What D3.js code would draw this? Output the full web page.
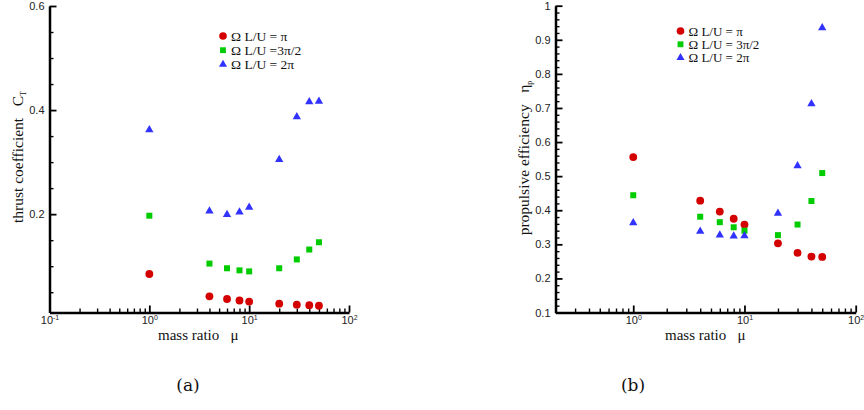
<!DOCTYPE html>
<html><head><meta charset="utf-8">
<script src="https://cdn.jsdelivr.net/npm/d3@7"></script>
<style>body{margin:0;background:#fff}svg{display:block}</style>
</head><body>
<svg id="c" width="864" height="410"></svg>
<script>
const massRatio = [1, 4, 6, 8, 10, 20, 30, 40, 50];
const seriesNames = ["\u03A9 L/U = \u03C0", "\u03A9 L/U =3\u03C0/2", "\u03A9 L/U = 2\u03C0"];
const seriesNamesB = ["\u03A9 L/U = \u03C0", "\u03A9 L/U = 3\u03C0/2", "\u03A9 L/U = 2\u03C0"];
const thrustPi    = [0.085, 0.042, 0.037, 0.034, 0.032, 0.028, 0.026, 0.025, 0.024];
const thrust3Pi2  = [0.197, 0.105, 0.096, 0.092, 0.090, 0.096, 0.113, 0.132, 0.146];
const thrust2Pi   = [0.362, 0.206, 0.199, 0.204, 0.213, 0.305, 0.387, 0.416, 0.417];
const effPi       = [0.556, 0.428, 0.396, 0.375, 0.358, 0.303, 0.275, 0.264, 0.263];
const eff3Pi2     = [0.444, 0.381, 0.365, 0.350, 0.340, 0.327, 0.358, 0.427, 0.509];
const eff2Pi      = [0.363, 0.338, 0.327, 0.324, 0.325, 0.391, 0.530, 0.712, 0.935];
const ticksThrust = [0.2, 0.4, 0.6];
const ticksEff    = [0.1, 0.2, 0.3, 0.4, 0.5, 0.6, 0.7, 0.8, 0.9, 1];
const colors = ["#d40000", "#00cc00", "#3232ff"];
const shapes = [d3.symbolCircle, d3.symbolSquare, d3.symbolTriangle];
const symSizes = [48, 36, 30];

const SERIF = "'Liberation Serif', 'Times New Roman', serif";
const SANS = "'Liberation Sans', Arial, sans-serif";
const svg = d3.select("#c");

function panel(cfg) {
  const g = svg.append("g");
  const x = d3.scaleLog().domain(cfg.xDomain).range(cfg.xRange);
  const y = d3.scaleLinear().domain(cfg.yDomain).range(cfg.yRange);
  const y0 = cfg.yRange[0], x0 = cfg.xRange[0];

  const decStart = Math.floor(Math.log10(cfg.xDomain[0]));
  const minorX = [], majorX = [];
  for (let e = decStart; e <= 2; e++) {
    for (let k = 1; k <= 9; k++) {
      const v = k * Math.pow(10, e);
      if (v < cfg.xDomain[0] - 1e-9 || v > cfg.xDomain[1] + 1e-9) continue;
      (k === 1 ? majorX : minorX).push(v);
    }
  }

  // minor ticks (x)
  const mx = g.append("g").attr("transform", `translate(0,${y0})`)
    .call(d3.axisBottom(x).tickValues(minorX).tickSizeInner(-4).tickSizeOuter(0).tickFormat(""));
  mx.select(".domain").remove();
  mx.selectAll(".tick line").style("stroke", "#000").style("stroke-width", "1.4px");

  // minor ticks (y)
  const my = g.append("g").attr("transform", `translate(${x0},0)`)
    .call(d3.axisLeft(y).tickValues(cfg.yMinor).tickSizeInner(-4).tickSizeOuter(0).tickFormat(""));
  my.select(".domain").remove();
  my.selectAll(".tick line").style("stroke", "#000").style("stroke-width", "1.4px");

  // major x axis with domain line
  const xa = g.append("g").attr("transform", `translate(0,${y0})`)
    .call(d3.axisBottom(x).tickValues(majorX).tickSizeInner(-7).tickSizeOuter(0).tickFormat(""));
  xa.select(".domain").style("stroke", "#000").style("stroke-width", "2.5px");
  xa.selectAll(".tick line").style("stroke", "#000").style("stroke-width", "1.8px");
  xa.selectAll(".tick").each(function(d) {
    const e = Math.round(Math.log10(d));
    const t = d3.select(this).append("text").attr("y", 11.5)
      .attr("fill", "#222").attr("font-family", SANS)
      .attr("font-size", 11).attr("text-anchor", "middle");
    t.append("tspan").text("10");
    t.append("tspan").attr("dy", -4).attr("font-size", 7).text(String(e));
  });

  // major y axis with domain line
  const ya = g.append("g").attr("transform", `translate(${x0},0)`)
    .call(d3.axisLeft(y).tickValues(cfg.yTicks).tickSizeInner(-7).tickSizeOuter(0).tickFormat(d3.format("~g")));
  ya.select(".domain").style("stroke", "#000").style("stroke-width", "2.5px");
  ya.selectAll(".tick line").style("stroke", "#000").style("stroke-width", "1.8px");
  ya.selectAll("text").attr("x", -5).attr("fill", "#222").attr("font-family", SANS).attr("font-size", 11);

  cfg.series.forEach((vals, i) => {
    g.append("g").selectAll("path").data(vals).join("path")
      .attr("d", d3.symbol().type(shapes[i]).size(symSizes[i]))
      .attr("transform", (v, j) => `translate(${x(massRatio[j])},${y(v)})`)
      .attr("fill", colors[i]);
  });

  cfg.names.forEach((nm, i) => {
    const ly = cfg.legend[1] + i * cfg.legend[2];
    g.append("path").attr("d", d3.symbol().type(shapes[i]).size(symSizes[i] * 0.95)())
      .attr("transform", `translate(${cfg.legend[0]},${ly})`).attr("fill", colors[i]);
    g.append("text").attr("x", cfg.legend[0] + 8).attr("y", ly + 4.5)
      .attr("font-family", SERIF).attr("font-size", cfg.legend[3])
      .attr("fill", "#111").text(nm);
  });

  g.append("text").attr("x", cfg.xTitle[0]).attr("y", cfg.xTitle[1])
    .attr("font-family", SERIF).attr("font-size", 15)
    .attr("fill", "#111").attr("xml:space", "preserve").text("mass ratio   \u03BC");
  const yt = g.append("text").attr("transform", `translate(${cfg.yTitle[0]},${cfg.yTitle[1]}) rotate(-90)`)
    .attr("text-anchor", "middle")
    .attr("font-family", SERIF).attr("font-size", 15.5)
    .attr("fill", "#111").attr("xml:space", "preserve");
  yt.append("tspan").text(cfg.yLabel + "   " + cfg.ySym);
  yt.append("tspan").attr("dy", 3).attr("font-size", 8).text(cfg.ySub);

  g.append("text").attr("x", cfg.caption[0]).attr("y", cfg.caption[1]).attr("text-anchor", "middle")
    .attr("font-family", "'DejaVu Serif', 'Liberation Serif', serif").attr("font-size", 17)
    .attr("fill", "#111").text(cfg.captionText);
}

const minorThrust = d3.range(1, 12).map(i => +(i * 0.05).toFixed(2)).filter(v => ticksThrust.indexOf(v) < 0);
const minorEff = d3.range(6, 51).map(i => +(i * 0.02).toFixed(2)).filter(v => Math.abs(v * 10 - Math.round(v * 10)) > 1e-6);

panel({
  xDomain: [0.1, 100], xRange: [49.5, 349],
  yDomain: [0.011, 0.6], yRange: [312.5, 6],
  yTicks: ticksThrust, yMinor: minorThrust,
  series: [thrustPi, thrust3Pi2, thrust2Pi],
  names: seriesNames, legend: [223, 36, 14.2, 13.5],
  xTitle: [158, 340], yTitle: [23, 157], yLabel: "thrust coefficient", ySym: "C", ySub: "T",
  caption: [188, 391], captionText: "(a)"
});
panel({
  xDomain: [0.2, 100], xRange: [555.5, 855.7],
  yDomain: [0.1, 1], yRange: [312.5, 5.7],
  yTicks: ticksEff, yMinor: minorEff,
  series: [effPi, eff3Pi2, eff2Pi],
  names: seriesNamesB, legend: [680.5, 31, 13.3, 13],
  xTitle: [665, 340], yTitle: [529, 158], yLabel: "propulsive efficiency", ySym: "\u03B7", ySub: "p",
  caption: [633, 391], captionText: "(b)"
});
</script>
</body></html>
